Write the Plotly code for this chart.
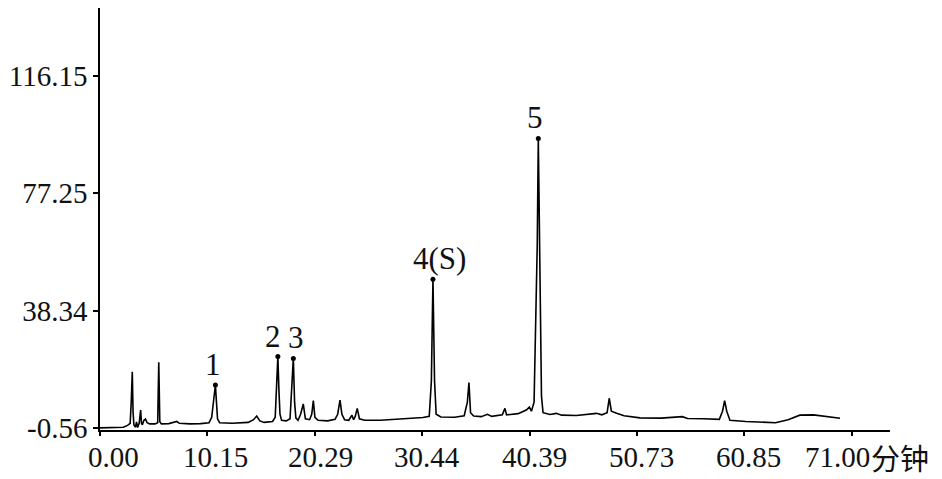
import plotly.graph_objects as go

# Chromatogram (time in min, signal)
time_min = [0.0, 1.5, 2.2, 2.6, 2.85, 2.95, 3.05, 3.12, 3.2, 3.35, 3.45, 3.55, 3.7, 3.84, 3.92,
            4.0, 4.15, 4.3, 4.45, 4.7, 5.2, 5.45, 5.55, 5.65, 5.8, 6.5, 7.0, 7.25, 7.5, 8.5,
            9.5, 10.3, 10.55, 10.7, 10.8, 10.9, 11.0, 11.1, 11.3, 12.5, 14.0, 14.5, 14.8, 15.1,
            15.5, 16.3, 16.55, 16.7, 16.8, 16.9, 17.0, 17.15, 17.6, 17.95, 18.1, 18.26, 18.38,
            18.5, 18.7, 18.95, 19.2, 19.4, 19.8, 20.0, 20.15, 20.3, 20.6, 21.5, 22.2, 22.45,
            22.67, 22.85, 23.1, 23.5, 23.8, 23.95, 24.1, 24.3, 24.5, 25.0, 26.5, 28.0, 29.0,
            30.5, 31.1, 31.3, 31.45, 31.6, 31.75, 32.2, 33.5, 34.4, 34.7, 34.85, 35.0, 35.3,
            36.0, 36.6, 37.0, 38.0, 38.25, 38.4, 39.5, 40.3, 40.55, 40.75, 41.0, 41.2, 41.3,
            41.4, 41.5, 41.6, 41.7, 41.85, 42.5, 43.1, 43.6, 45.0, 46.5, 46.9, 47.4, 47.9, 48.1,
            48.3, 48.8, 49.5, 51.0, 53.0, 55.0, 55.5, 57.0, 58.5, 58.8, 59.0, 59.2, 59.5, 61.0,
            62.5, 63.8, 65.0, 66.1, 67.4, 68.5, 69.9]
signal = [-0.5, -0.5, -0.3, 0.3, 1.0, 8.0, 18.1, 5.0, 0.5, -0.3, 1.5, -0.4, 1.0, 5.4, 1.0,
          0.5, 2.0, 2.4, 1.2, 0.8, 0.8, 1.2, 21.2, 1.5, 0.8, 0.9, 1.2, 1.6, 1.0, 0.8,
          0.9, 1.2, 3.0, 8.0, 9.5, 13.7, 8.0, 2.5, 1.2, 1.0, 1.3, 2.2, 3.4, 1.8,
          1.3, 1.6, 3.0, 16.0, 23.1, 12.0, 4.0, 2.0, 1.8, 2.5, 12.0, 22.5, 8.0,
          2.8, 2.0, 4.0, 7.4, 2.5, 2.2, 4.0, 8.5, 3.0, 2.0, 1.8, 2.3, 4.0,
          8.7, 4.0, 2.2, 2.0, 3.7, 2.2, 3.2, 5.96, 2.5, 2.0, 2.0, 2.3, 2.7,
          2.9, 3.3, 15.0, 48.7, 15.0, 4.0, 3.1, 3.0, 3.5, 8.0, 14.5, 4.5, 3.4,
          3.2, 4.0, 3.3, 3.8, 5.96, 3.8, 4.2, 5.5, 6.4, 5.0, 8.0, 40.0, 60.0,
          95.4, 60.0, 38.0, 10.0, 4.5, 3.9, 4.3, 3.7, 3.6, 4.0, 4.3, 3.8, 4.5, 9.3,
          5.0, 4.3, 3.5, 2.8, 2.7, 3.2, 2.6, 2.5, 2.3, 5.0, 8.5, 5.0, 2.0, 1.6,
          1.4, 1.2, 2.2, 3.7, 3.8, 3.4, 2.65]

# Labelled peaks
peak_labels = ["1", "2", "3", "4(S)", "5"]
peak_times = [10.9, 16.8, 18.26, 31.45, 41.4]
peak_xshift = [-2, -5, 3, 7, -3]

# Axis ticks
x_tickvals = [0.0, 71 / 7, 2 * 71 / 7, 3 * 71 / 7, 4 * 71 / 7, 5 * 71 / 7, 6 * 71 / 7, 71.0]
x_ticktext = ["0.00", "10.15", "20.29", "30.44", "40.39", "50.73", "60.85", "71.00"]
x_label_shift = [13, 8, 6, 5, 5, 5, 4, -14]
y_tickvals = [-0.56, 38.34, 77.25, 116.15]
y_ticktext = ["-0.56", "38.34", "77.25", "116.15"]
x_unit = "分钟"

peak_vals = [signal[time_min.index(t)] for t in peak_times]

FONT = "Liberation Serif, Times New Roman, serif"
TXT = "#111"

fig = go.Figure()
fig.add_trace(go.Scatter(x=time_min, y=signal, mode="lines",
                         line=dict(color="black", width=1.6), hoverinfo="skip",
                         showlegend=False, cliponaxis=False))
fig.add_trace(go.Scatter(x=peak_times, y=peak_vals, mode="markers",
                         marker=dict(color="black", size=5), hoverinfo="skip",
                         showlegend=False))

for lab, t, v, dx in zip(peak_labels, peak_times, peak_vals, peak_xshift):
    fig.add_annotation(x=t, y=v, text=lab, showarrow=False, xanchor="center",
                       yanchor="bottom", yshift=1, xshift=dx,
                       font=dict(family=FONT, size=31, color=TXT))

# x tick labels (drawn as text at the tick positions)
for tv, tt, dx in zip(x_tickvals, x_ticktext, x_label_shift):
    fig.add_annotation(x=tv, y=0, xref="x", yref="paper", text=tt, showarrow=False,
                       xanchor="center", yanchor="middle", xshift=dx, yshift=-27,
                       font=dict(family=FONT, size=29, color=TXT))

fig.add_annotation(x=71.0, y=0, xref="x", yref="paper", text=x_unit, showarrow=False,
                   xanchor="left", yanchor="middle", xshift=17, yshift=-27,
                   font=dict(family="Noto Sans CJK SC", size=29, color=TXT))

fig.update_layout(
    width=942, height=479,
    margin=dict(l=100, r=52, t=8, b=49),
    paper_bgcolor="white", plot_bgcolor="white",
    font=dict(family=FONT, size=29, color=TXT),
    xaxis=dict(range=[0, 74.62], tickvals=x_tickvals, showticklabels=False,
               showgrid=False, zeroline=False, showline=True, linecolor="black",
               linewidth=1.5, ticks="outside", ticklen=4, tickcolor="black",
               tickwidth=1.5, automargin=False),
    yaxis=dict(range=[-1.22, 138.6], tickvals=y_tickvals, ticktext=y_ticktext,
               showgrid=False, zeroline=False, showline=True, linecolor="black",
               linewidth=1.5, ticks="outside", ticklen=5, tickcolor="black",
               tickwidth=1.5, automargin=False),
)

fig.write_html("out.html", config={"displayModeBar": False},
               post_script="document.body.style.margin='0';document.body.style.overflow='hidden';")
